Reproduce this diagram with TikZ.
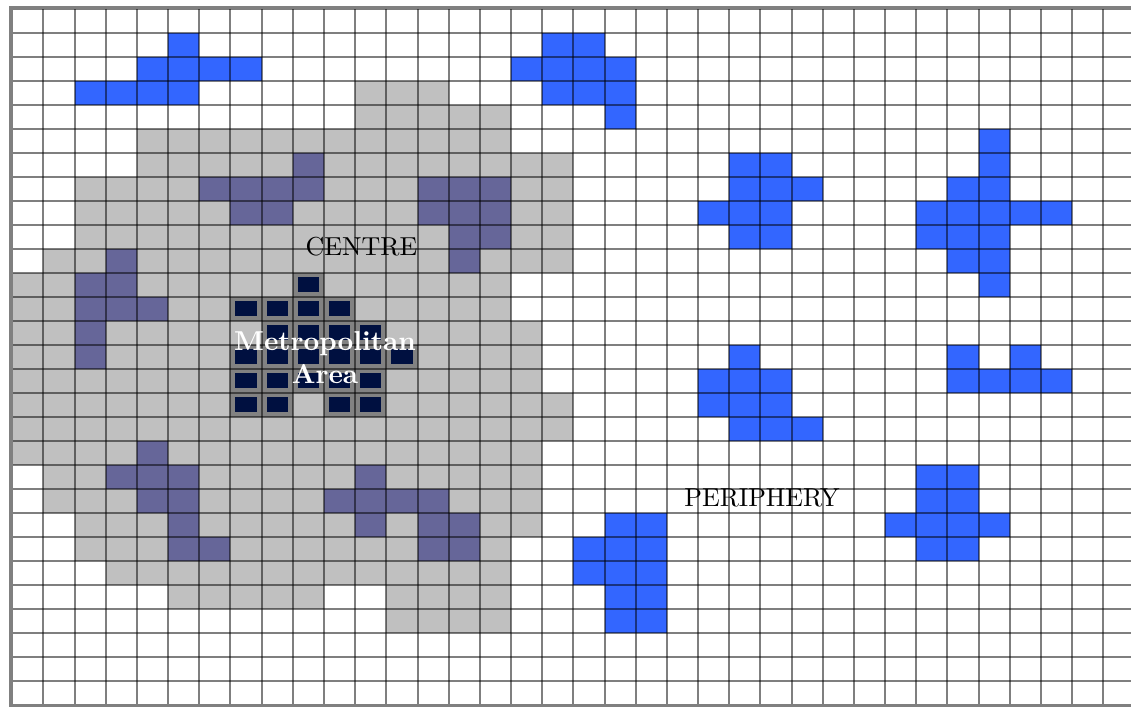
\documentclass[tikz,border=0pt]{standalone}
\usepackage{fontspec}
\setmainfont{lmroman10}[Extension=.otf,UprightFont=*-regular,BoldFont=*-bold]
\tikzset{every picture/.style={line width=0.75pt}}
\definecolor{greyzone}{HTML}{C0C0C0}
\definecolor{purplezone}{HTML}{666699}
\definecolor{bluezone}{HTML}{3366FF}
\definecolor{navyzone}{HTML}{001040}
\definecolor{metrobg}{HTML}{828282}
\definecolor{framegrey}{HTML}{808080}
\tikzset{
  greycell/.style={fill=greyzone},
  purplecell/.style={fill=purplezone},
  bluecell/.style={fill=bluezone},
  metrocell/.style={fill=metrobg},
  metrosquare/.style={fill=navyzone},
  gridline/.style={draw=black,draw opacity=0.5,line width=1.5pt},
  frameline/.style={draw=framegrey,line width=2.4pt},
  zonelabel/.style={inner sep=0.75pt,font=\fontsize{19.5}{23}\selectfont},
  metrolabel/.style={inner sep=0.75pt,text=white,align=center,font=\bfseries\fontsize{20.5}{24.2}\selectfont},
}
\newcommand{\gridx}{12.3}
\newcommand{\gridy}{8.7}
\newcommand{\cellw}{31.17}
\newcommand{\cellh}{24}

\begin{document}
\begin{tikzpicture}[x=0.75pt,y=0.75pt,yscale=-1]
\useasboundingbox (0,0) rectangle (1131,707);
\clip (0,0) rectangle (1131,707);
\fill[white] (0,0) rectangle (1131,707);
%Shape: grey centre zone [row/first col/last col]
\foreach \r/\a/\b in {3/11/13,4/11/15,5/4/15,6/4/17,7/2/17,8/2/17,9/2/17,10/1/17,11/0/15,12/0/15,13/0/16,14/0/16,15/0/16,16/0/17,17/0/17,18/0/16,19/1/16,20/1/16,21/2/16,22/2/15,23/3/15,24/5/9,24/12/15,25/12/15}
  \fill[greycell] ({\gridx+\cellw*\a},{\gridy+\cellh*\r}) rectangle ({\gridx+\cellw*(\b+1)},{\gridy+\cellh*(\r+1)});
%Shape: purple sub-centres [col/row]
\foreach \c/\r in {9/6,6/7,7/7,8/7,9/7,7/8,8/8,
    13/7,14/7,15/7,13/8,14/8,15/8,14/9,15/9,14/10,
    3/10,2/11,3/11,2/12,3/12,4/12,2/13,2/14,
    4/18,3/19,4/19,5/19,4/20,5/20,5/21,5/22,6/22,
    11/19,10/20,11/20,12/20,13/20,11/21,13/21,14/21,13/22,14/22}
  \fill[purplecell] ({\gridx+\cellw*\c},{\gridy+\cellh*\r}) rectangle ++(\cellw,\cellh);
%Shape: blue periphery towns [col/row]
\foreach \c/\r in {5/1,4/2,5/2,6/2,7/2,2/3,3/3,4/3,5/3,
    17/1,18/1,16/2,17/2,18/2,19/2,17/3,18/3,19/3,19/4,
    23/6,24/6,23/7,24/7,25/7,22/8,23/8,24/8,23/9,24/9,
    31/5,31/6,30/7,31/7,29/8,30/8,31/8,32/8,33/8,29/9,30/9,31/9,30/10,31/10,31/11,
    23/14,22/15,23/15,24/15,22/16,23/16,24/16,23/17,24/17,25/17,
    30/14,32/14,30/15,31/15,32/15,33/15,
    29/19,30/19,29/20,30/20,28/21,29/21,30/21,31/21,29/22,30/22,
    19/21,20/21,18/22,19/22,20/22,18/23,19/23,20/23,19/24,20/24,19/25,20/25}
  \fill[bluecell] ({\gridx+\cellw*\c},{\gridy+\cellh*\r}) rectangle ++(\cellw,\cellh);
%Shape: metropolitan cells [col/row]
\foreach \c/\r in {9/11,7/12,8/12,9/12,10/12,8/13,9/13,10/13,11/13,
    7/14,8/14,9/14,10/14,11/14,12/14,7/15,8/15,9/15,10/15,11/15,
    7/16,8/16,10/16,11/16}{
  \fill[metrocell] ({\gridx+\cellw*\c},{\gridy+\cellh*\r}) rectangle ++(\cellw,\cellh);
  \fill[metrosquare] ({\gridx+\cellw*\c+5},{\gridy+\cellh*\r+4.5}) rectangle ++({\cellw-10},{\cellh-9});
}
%Shape: Grid
\foreach \i in {0,...,36}
  \draw[gridline] ({\gridx+\cellw*\i},\gridy) -- ++(0,{29*\cellh});
\foreach \j in {0,...,29}
  \draw[gridline] (\gridx,{\gridy+\cellh*\j}) -- (1131,{\gridy+\cellh*\j});
%Shape: frame
\draw[frameline] (1135,7.6) -- (11,7.6) -- (11,705.8) -- (1135,705.8);

% Text Node
\node[zonelabel] (centre) at (361.5,246.7) {CENTRE};
% Text Node
\node[zonelabel] (periphery) at (762,498.3) {PERIPHERY};
% Text Node
\node[metrolabel] (metro) at (325,357.5) {Metropolitan\\Area};

\end{tikzpicture}
\end{document}
